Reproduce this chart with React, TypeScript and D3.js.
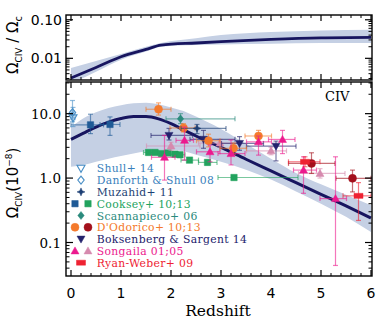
import React from "react";
import * as d3 from "d3";

// ---------- model curves ----------
const modelZ = [0, 0.25, 0.5, 0.75, 1.0, 1.25, 1.5, 1.75, 2.0, 2.25, 2.5, 3.0, 3.5, 4.0, 4.5, 5.0, 5.5, 6.0];
const omegaMid = [4.0, 5.0, 6.2, 7.4, 8.4, 9.0, 9.0, 8.3, 7.0, 5.6, 4.5, 3.0, 1.96, 1.29, 0.85, 0.56, 0.37, 0.24];
const omegaHi = [6.2, 8.5, 10.5, 12.2, 13.5, 14.5, 14.8, 14.0, 12.5, 11.0, 9.0, 5.8, 3.4, 2.0, 1.2, 0.8, 0.55, 0.38];
const omegaLo = [1.5, 1.6, 1.8, 2.0, 2.2, 2.4, 2.6, 2.7, 2.7, 2.6, 2.3, 1.8, 1.35, 0.95, 0.62, 0.4, 0.25, 0.145];

const ratioZ = [0, 0.5, 1.0, 1.5, 1.8, 2.5, 3.0, 4.0, 5.0, 6.0];
const ratioMid = [0.0031, 0.0058, 0.011, 0.017, 0.022, 0.025, 0.027, 0.031, 0.034, 0.035];
const ratioHi = [0.0056, 0.0085, 0.013, 0.02, 0.025, 0.033, 0.04, 0.048, 0.053, 0.055];
const ratioLo = [0.0022, 0.0045, 0.0092, 0.015, 0.02, 0.022, 0.023, 0.024, 0.025, 0.025];

// ---------- observations: [z, value, zLo, zHi, vLo, vHi] ----------
const shull14 = [[0.04, 8.6, 0.0, 0.08, 6.3, 12.5]];
const danforth08 = [[0.03, 10.4, 0.0, 0.06, 7.5, 16.0]];
const muzahid11 = [[2.52, 5.9, 2.2, 3.1, 4.9, 6.8]];
const cooksey10 = [
  [0.39, 6.7, 0.0, 0.65, 4.9, 9.8],
  [0.78, 6.8, 0.58, 0.98, 4.6, 8.9],
];
const cooksey13 = [
  [1.55, 2.5, 1.45, 1.62, 2.3, 2.7],
  [1.68, 2.5, 1.62, 1.75, 2.3, 2.7],
  [1.81, 2.4, 1.75, 1.88, 2.2, 2.6],
  [1.94, 2.45, 1.88, 2.0, 2.25, 2.65],
  [2.08, 2.35, 2.0, 2.15, 2.15, 2.55],
  [2.18, 2.3, 2.1, 2.28, 2.1, 2.5],
  [2.37, 1.9, 2.2, 2.55, 1.75, 2.05],
  [2.73, 1.75, 2.55, 2.92, 1.6, 1.9],
  [3.26, 1.02, 2.94, 4.54, 0.94, 1.1],
];
const scannapieco06 = [[2.19, 8.3, 1.9, 3.28, 7.0, 10.0]];
const dodorico10 = [
  [1.75, 11.7, 1.5, 2.0, 9.5, 14.7],
  [2.25, 6.0, 1.98, 2.48, 5.2, 7.0],
  [2.75, 3.8, 2.51, 2.98, 3.05, 4.8],
  [3.25, 2.9, 2.98, 3.51, 2.35, 3.5],
  [3.75, 4.5, 3.48, 4.01, 3.65, 5.5],
];
const dodorico13 = [
  [4.81, 1.69, 4.35, 5.28, 1.18, 2.47],
  [5.63, 0.99, 5.3, 6.0, 0.61, 1.33],
];
const boksenberg14 = [
  [1.96, 4.6, 1.6, 2.43, 3.9, 5.9],
  [2.65, 4.0, 2.38, 3.28, 2.9, 5.5],
  [3.37, 3.45, 3.01, 3.85, 2.7, 4.4],
  [4.1, 3.13, 3.51, 4.5, 1.85, 3.75],
];
const songaila01 = [
  [1.87, 2.1, 1.61, 2.08, 0.93, 4.6],
  [2.27, 3.85, 2.1, 2.45, 1.9, 6.2],
  [2.78, 2.56, 2.51, 2.98, 1.79, 3.25],
  [3.2, 2.4, 2.94, 3.48, 1.6, 3.9],
  [3.75, 3.65, 3.51, 4.01, 2.27, 4.5],
  [4.23, 3.98, 3.95, 4.48, 2.4, 5.5],
  [4.65, 1.33, 4.45, 4.91, 0.58, 2.14],
  [5.29, 0.48, 4.98, 5.51, 0.044, 2.14],
];
const songaila05 = [
  [2.0, 3.15, 1.51, 2.58, 2.7, 3.6],
  [2.98, 3.5, 2.55, 3.4, 3.0, 4.0],
  [4.0, 2.65, 3.51, 4.31, 2.3, 3.0],
  [4.98, 1.18, 4.55, 5.48, 1.0, 1.4],
];
const ryanWeber09 = [
  [4.68, 1.79, 4.35, 4.98, 1.5, 2.14],
  [5.75, 0.53, 5.44, 6.0, 0.22, 0.85],
];

const xMajor = [0, 1, 2, 3, 4, 5, 6];
const botMajor = [0.1, 1, 10];
const botMajorLabels = ["0.1", "1.0", "10.0"];
const topMajor = [0.01, 0.1];
const topMajorLabels = ["0.01", "0.10"];

const series = [
  { key: "cooksey10", marker: "square", color: "#1f5a96", data: cooksey10 },
  { key: "cooksey13", marker: "square", color: "#22a35e", data: cooksey13 },
  { key: "scannapieco06", marker: "diamond", color: "#2a8a7c", data: scannapieco06 },
  { key: "songaila05", marker: "triUp", color: "#d68aae", data: songaila05 },
  { key: "boksenberg14", marker: "triDown", color: "#23226c", data: boksenberg14 },
  { key: "dodorico10", marker: "circle", color: "#f47a2c", data: dodorico10 },
  { key: "dodorico13", marker: "circle", color: "#a3101c", data: dodorico13 },
  { key: "muzahid11", marker: "star", color: "#1d3f74", data: muzahid11 },
  { key: "songaila01", marker: "triUp", color: "#ec1a8e", data: songaila01 },
  { key: "ryanWeber09", marker: "rect", color: "#ee2232", data: ryanWeber09 },
  { key: "shull14", marker: "triDown", color: "#4a8fc6", open: true, data: shull14 },
  { key: "danforth08", marker: "diamond", color: "#4a8fc6", open: true, data: danforth08 },
];

const legend = [
  { text: "Shull+ 14", color: "#3a7fbc", marks: [{ m: "triDown", c: "#4a8fc6", open: true }] },
  { text: "Danforth & Shull 08", color: "#3a7fbc", marks: [{ m: "diamond", c: "#4a8fc6", open: true }] },
  { text: "Muzahid+ 11", color: "#1d3f74", marks: [{ m: "star", c: "#1d3f74" }] },
  { text: "Cooksey+ 10;13", color: "#22a35e", marks: [{ m: "square", c: "#1f5a96" }, { m: "square", c: "#22a35e" }] },
  { text: "Scannapieco+ 06", color: "#2a8a7c", marks: [{ m: "diamond", c: "#2a8a7c" }] },
  { text: "D'Odorico+ 10;13", color: "#f47a2c", marks: [{ m: "circle", c: "#f47a2c" }, { m: "circle", c: "#a3101c" }] },
  { text: "Boksenberg & Sargent 14", color: "#23226c", marks: [{ m: "triDown", c: "#23226c" }] },
  { text: "Songaila 01;05", color: "#ec1a8e", marks: [{ m: "triUp", c: "#ec1a8e" }, { m: "triUp", c: "#d68aae" }] },
  { text: "Ryan-Weber+ 09", color: "#ee2232", marks: [{ m: "rect", c: "#ee2232" }] },
];

// ---------- layout ----------
const W = 390;
const H = 325;
const L = 66;
const R = 372;
const topT = 15;
const topB = 80;
const botT = 82;
const botB = 276;
const BAND = "#c5d0e4";
const LINE = "#17155f";

const x = d3.scaleLinear().domain([-0.1, 6.02]).range([L, R]);
const yTop = d3.scaleLog().domain([0.00274, 0.133]).range([topB, topT]);
const yBot = d3.scaleLog().domain([0.0302, 31]).range([botB, botT]);

function markerPath(m: string) {
  const s = 4;
  switch (m) {
    case "triDown":
      return `M${-s},${-s * 0.75}L${s},${-s * 0.75}L0,${s}Z`;
    case "triUp":
      return `M${-s},${s * 0.75}L${s},${s * 0.75}L0,${-s}Z`;
    case "diamond":
      return `M0,${-s}L${s * 0.8},0L0,${s}L${-s * 0.8},0Z`;
    case "star":
      return `M0,${-s}L${s * 0.3},${-s * 0.3}L${s},0L${s * 0.3},${s * 0.3}L0,${s}L${-s * 0.3},${s * 0.3}L${-s},0L${-s * 0.3},${-s * 0.3}Z`;
    case "square":
      return `M-3.2,-3.2H3.2V3.2H-3.2Z`;
    case "rect":
      return `M-4.5,-2.5H4.5V2.5H-4.5Z`;
    default:
      return d3.arc()({ innerRadius: 0, outerRadius: 4, startAngle: 0, endAngle: 2 * Math.PI }) as string;
  }
}

function Marker({ m, c, open, tx, ty }: any) {
  return (
    <path
      d={markerPath(m)}
      transform={`translate(${tx},${ty})`}
      fill={open ? "none" : c}
      stroke={c}
      strokeWidth={open ? 1.1 : 0.5}
    />
  );
}

function logMinors(domain: number[]) {
  const out: number[] = [];
  for (let e = -4; e <= 2; e++) {
    for (let k = 2; k <= 9; k++) {
      const v = k * Math.pow(10, e);
      if (v > domain[0] && v < domain[1]) out.push(v);
    }
  }
  return out;
}

function Frame({ y, t, b, majors, minors }: any) {
  const xMin = d3.range(0, 6.01, 0.2).filter((v) => Math.abs(v - Math.round(v)) > 1e-6);
  return (
    <g stroke="#000" fill="none">
      <rect x={L} y={t} width={R - L} height={b - t} strokeWidth={1.4} />
      {xMajor.map((v) => (
        <g key={"xM" + v}>
          <line x1={x(v)} x2={x(v)} y1={b} y2={b - 6} strokeWidth={1.2} />
          <line x1={x(v)} x2={x(v)} y1={t} y2={t + 6} strokeWidth={1.2} />
        </g>
      ))}
      {xMin.map((v) => (
        <g key={"xm" + v}>
          <line x1={x(v)} x2={x(v)} y1={b} y2={b - 3} strokeWidth={1} />
          <line x1={x(v)} x2={x(v)} y1={t} y2={t + 3} strokeWidth={1} />
        </g>
      ))}
      {majors.map((v: number) => (
        <g key={"yM" + v}>
          <line x1={L} x2={L + 7} y1={y(v)} y2={y(v)} strokeWidth={1.2} />
          <line x1={R} x2={R - 7} y1={y(v)} y2={y(v)} strokeWidth={1.2} />
        </g>
      ))}
      {minors.map((v: number) => (
        <g key={"ym" + v}>
          <line x1={L} x2={L + 3.5} y1={y(v)} y2={y(v)} strokeWidth={1} />
          <line x1={R} x2={R - 3.5} y1={y(v)} y2={y(v)} strokeWidth={1} />
        </g>
      ))}
    </g>
  );
}

export default function App() {
  const area = (ys: any, zs: number[], hi: number[], lo: number[]) =>
    d3
      .area<number>()
      .x((_, i) => x(zs[i]))
      .y0((_, i) => ys(lo[i]))
      .y1((_, i) => ys(hi[i]))
      .curve(d3.curveMonotoneX)(zs) as string;
  const line = (ys: any, zs: number[], v: number[]) =>
    d3
      .line<number>()
      .x((_, i) => x(zs[i]))
      .y((_, i) => ys(v[i]))
      .curve(d3.curveMonotoneX)(zs) as string;

  const sans = "DejaVu Sans, sans-serif";
  const serif = "DejaVu Serif, serif";

  return (
    <svg width={W} height={H} style={{ position: "absolute", left: 0, top: 0 }}>
      <defs>
        <clipPath id="clipTop">
          <rect x={L} y={topT} width={R - L} height={topB - topT} />
        </clipPath>
        <clipPath id="clipBot">
          <rect x={L} y={botT} width={R - L} height={botB - botT} />
        </clipPath>
      </defs>
      <rect width={W} height={H} fill="#fff" />

      {/* top panel */}
      <g clipPath="url(#clipTop)">
        <path d={area(yTop, ratioZ, ratioHi, ratioLo)} fill={BAND} />
        <path d={line(yTop, ratioZ, ratioMid)} fill="none" stroke={LINE} strokeWidth={2.8} />
      </g>
      <Frame y={yTop} t={topT} b={topB} majors={topMajor} minors={logMinors(yTop.domain())} />
      {topMajor.map((v, i) => (
        <text key={v} x={62} y={yTop(v) + 5} textAnchor="end" fontFamily={sans} fontSize={14}>
          {topMajorLabels[i]}
        </text>
      ))}
      <text transform="translate(18,45) rotate(-90)" textAnchor="middle" fontFamily={sans} fontSize={15}>
        Ω<tspan fontSize={9} dy={4}>CIV</tspan>
        <tspan dy={-4}> / Ω</tspan>
        <tspan fontSize={10} dy={4}>c</tspan>
      </text>

      {/* bottom panel */}
      <g clipPath="url(#clipBot)">
        <path d={area(yBot, modelZ, omegaHi, omegaLo)} fill={BAND} />
        <path d={line(yBot, modelZ, omegaMid)} fill="none" stroke={LINE} strokeWidth={3} />
        {series.map((s) => (
          <g key={s.key}>
            {s.data.map((d, i) => {
              const [z, v, z0, z1, v0, v1] = d;
              const cx = x(z);
              const cy = yBot(v);
              return (
                <g key={i} stroke={s.color} strokeOpacity={0.6} strokeWidth={1.2}>
                  <line x1={x(z0)} x2={x(z1)} y1={cy} y2={cy} />
                  <line x1={x(z0)} x2={x(z0)} y1={cy - 2.5} y2={cy + 2.5} />
                  <line x1={x(z1)} x2={x(z1)} y1={cy - 2.5} y2={cy + 2.5} />
                  <line x1={cx} x2={cx} y1={yBot(v0)} y2={yBot(v1)} />
                  <line x1={cx - 2.5} x2={cx + 2.5} y1={yBot(v0)} y2={yBot(v0)} />
                  <line x1={cx - 2.5} x2={cx + 2.5} y1={yBot(v1)} y2={yBot(v1)} />
                </g>
              );
            })}
            {s.data.map((d, i) => (
              <Marker key={"m" + i} m={s.marker} c={s.color} open={(s as any).open} tx={x(d[0])} ty={yBot(d[1])} />
            ))}
          </g>
        ))}
      </g>
      <Frame y={yBot} t={botT} b={botB} majors={botMajor} minors={logMinors(yBot.domain())} />
      {botMajor.map((v, i) => (
        <text key={v} x={61} y={yBot(v) + 5} textAnchor="end" fontFamily={serif} fontSize={13.5}>
          {botMajorLabels[i]}
        </text>
      ))}
      {xMajor.map((v) => (
        <text key={v} x={x(v)} y={298} textAnchor="middle" fontFamily={sans} fontSize={14}>
          {v}
        </text>
      ))}
      <text x={218} y={316} textAnchor="middle" fontFamily={serif} fontSize={15.5}>
        Redshift
      </text>
      <text x={325} y={101} fontFamily={serif} fontSize={13}>
        CIV
      </text>
      <text transform="translate(18,183) rotate(-90)" textAnchor="middle" fontFamily={sans} fontSize={15}>
        Ω<tspan fontSize={9} dy={4}>CIV</tspan>
        <tspan dy={-4}>(10</tspan>
        <tspan fontSize={9} dy={-6}>−8</tspan>
        <tspan dy={6}>)</tspan>
      </text>

      {/* legend */}
      {legend.map((e, i) => {
        const cy = 168.3 + i * 11.8;
        const xs = e.marks.length === 2 ? [75, 88] : [81];
        return (
          <g key={e.text}>
            {e.marks.map((mk, j) => (
              <Marker key={j} m={mk.m} c={mk.c} open={(mk as any).open} tx={xs[j]} ty={cy} />
            ))}
            <text x={96.7} y={cy + 4} fill={e.color} fontFamily={serif} fontSize={10.8} letterSpacing={0.35}>
              {e.text}
            </text>
          </g>
        );
      })}
    </svg>
  );
}
